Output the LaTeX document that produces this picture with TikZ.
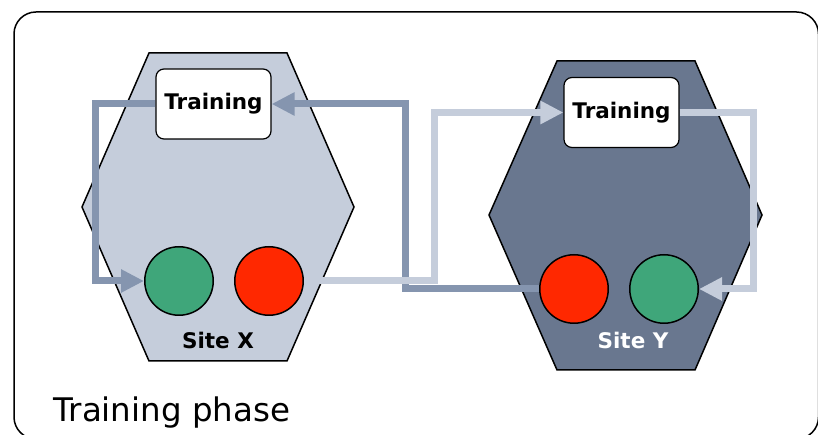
\documentclass[tikz,border=0pt]{standalone}
\usepackage{fontspec}
\setmainfont{DejaVu Sans}
\usetikzlibrary{positioning}
\usetikzlibrary{arrows.meta}

\definecolor{lightsite}{HTML}{C5CDDB}
\definecolor{darksite}{HTML}{69778F}
\definecolor{darkflow}{HTML}{8595AF}
\definecolor{tokengreen}{HTML}{3FA67A}
\definecolor{tokenred}{HTML}{FF2800}

\begin{document}
\begin{tikzpicture}[
  x=1pt, y=1pt,
  node distance=20pt,
  trainbox/.style={draw,fill=white,rounded corners=8pt,line width=1.2pt,
    minimum width=115pt,minimum height=70pt,
    font=\fontsize{21.5}{25}\selectfont\bfseries},
  token/.style={draw,circle,line width=1.5pt,minimum size=68.5pt,inner sep=0pt},
  hexside/.style={draw,line width=1.5pt},
  sitelabel/.style={font=\fontsize{21.5}{25}\selectfont\bfseries},
  flow/.style={line width=7pt,-{Triangle[length=23pt,width=22pt]}}
]
\useasboundingbox (0,0) rectangle (818,435);

% outer frame, running past the lower and right edges
\draw[line width=1.5pt,rounded corners=22pt] (14,-4) rectangle (818.5,423);

% the two sites
\draw[hexside,fill=lightsite] (82,228) -- (149,382) -- (287,382) -- (354,228)
  -- (287,74) -- (149,74) -- cycle;
\draw[hexside,fill=darksite] (489,220) -- (557,374) -- (695,374) -- (762,220)
  -- (695,65) -- (557,65) -- cycle;

\node[trainbox] (trX) at (213.5,331) {Training};
\node[trainbox] (trY) at (621.5,322.5) {Training};

\node[token,fill=tokengreen] (gX) at (179,154) {};
\node[token,fill=tokenred,right=of gX] (rX) {};
\node[token,fill=tokenred] (rY) at (574,146) {};
\node[token,fill=tokengreen,right=of rY] (gY) {};

\node[sitelabel] (labX) at (218,95) {Site X};
\node[sitelabel,text=white] (labY) at (633,95) {Site Y};

\node[anchor=base west,font=\fontsize{32.5}{38}\selectfont] (phase) at (50,13) {Training phase};

% model exchange
\draw[flow,darkflow] (trX.west) -- ++(-60,0) |- (gX.west);
\draw[flow,darkflow] (rY.west) -- ++(-134,0) |- (trX.east);
\draw[flow,lightsite] (rX.east) -- ++(130,0) |- (trY.west);
\draw[flow,lightsite] (trY.east) -- ++(74,0) |- (gY.east);

\end{tikzpicture}
\end{document}
